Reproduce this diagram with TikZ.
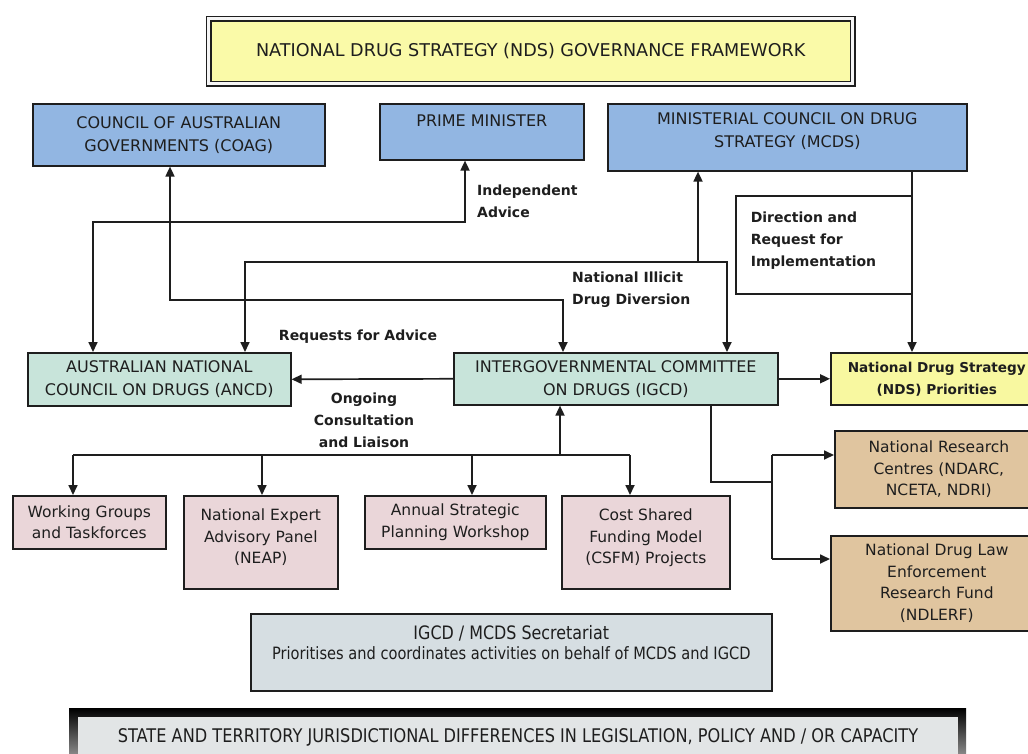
\documentclass[tikz,border=0pt]{standalone}
\usepackage{fontspec}
\setmainfont{DejaVu Sans}
\newfontfamily\condfont{DejaVu Sans}[FakeStretch=0.86]
\usetikzlibrary{arrows.meta}
\definecolor{blu}{HTML}{92B6E2}
\definecolor{ttl}{HTML}{FAFAA8}
\definecolor{ndsy}{HTML}{F8F8A0}
\definecolor{igc}{HTML}{C8E4DA}
\definecolor{pnk}{HTML}{EAD6D9}
\definecolor{tanc}{HTML}{E0C59F}
\definecolor{secc}{HTML}{D6DEE2}
\definecolor{jur}{HTML}{E2E5E6}
\definecolor{ink}{HTML}{1E1E1E}
\tikzset{
  box/.style={draw=ink, line width=1.6pt, inner sep=0pt, align=center, text=ink,
    font=\fontsize{15.5}{21.5}\selectfont, anchor=north west},
  capsbox/.style={box, font=\fontsize{16}{23}\selectfont},
  lbl/.style={font=\bfseries\fontsize{14}{22}\selectfont, text=ink, inner sep=0pt},
  conn/.style={draw=ink, line width=1.7pt},
  >={Triangle[length=10pt,width=9pt]}
}
\begin{document}
\begin{tikzpicture}[x=1pt,y=-1pt]
\useasboundingbox[fill=white] (0,0) rectangle (1028,753);

% title
\node[box, fill=ttl, line width=1.4pt, double=white!92!gray, double distance=3pt,
      minimum width=644pt, minimum height=65pt, font=\fontsize{17.6}{20}\selectfont]
      (title) at (208,18) {NATIONAL DRUG STRATEGY (NDS) GOVERNANCE FRAMEWORK};

% top row
\node[capsbox, fill=blu, minimum width=292pt, minimum height=62pt] (coag) at (32,103)
  {COUNCIL OF AUSTRALIAN\\GOVERNMENTS (COAG)};
\node[capsbox, fill=blu, minimum width=204pt, minimum height=56pt] (pm) at (379,103)
  {PRIME MINISTER\\\mbox{}};
\node[capsbox, fill=blu, minimum width=359pt, minimum height=67pt] (mcds) at (607,103)
  {MINISTERIAL COUNCIL ON DRUG\\STRATEGY (MCDS)\\[-8pt]\mbox{}};

% direction box
\node[box, fill=white, minimum width=176pt, minimum height=98pt, align=left,
      text width=146pt, inner xsep=15pt, font=\bfseries\fontsize{14}{22}\selectfont]
      (dir) at (735,195) {Direction and\\Request for\\Implementation\\[-10pt]\mbox{}};

% middle row
\node[capsbox, fill=igc, minimum width=263pt, minimum height=53pt] (ancd) at (27,352)
  {AUSTRALIAN NATIONAL\\COUNCIL ON DRUGS (ANCD)};
\node[capsbox, fill=igc, minimum width=324pt, minimum height=52pt] (igcd) at (453,352)
  {INTERGOVERNMENTAL COMMITTEE\\ON DRUGS (IGCD)};
\node[box, fill=ndsy, minimum width=212pt, minimum height=52pt,
      font=\bfseries\fontsize{13.6}{22}\selectfont] (ndsp) at (830,352)
  {National Drug Strategy\\(NDS) Priorities};

% research boxes
\node[box, fill=tanc, minimum width=208pt, minimum height=77pt] (nrc) at (834,430)
  {National Research\\Centres (NDARC,\\NCETA, NDRI)};
\node[box, fill=tanc, minimum width=212pt, minimum height=95pt] (ndlerf) at (830,535)
  {National Drug Law\\Enforcement\\Research Fund\\(NDLERF)};

% children
\node[box, fill=pnk, minimum width=153pt, minimum height=53pt] (wg) at (12,495)
  {Working Groups\\and Taskforces};
\node[box, fill=pnk, minimum width=154pt, minimum height=93pt] (neap) at (183,495)
  {National Expert\\Advisory Panel\\(NEAP)\\[-10pt]\mbox{}};
\node[box, fill=pnk, minimum width=181pt, minimum height=53pt] (asp) at (364,495)
  {Annual Strategic\\Planning Workshop};
\node[box, fill=pnk, minimum width=168pt, minimum height=93pt] (csfm) at (561,495)
  {Cost Shared\\Funding Model\\(CSFM) Projects\\[-10pt]\mbox{}};

% secretariat
\node[box, fill=secc, minimum width=521pt, minimum height=77pt,
      font=\condfont\fontsize{18.5}{20}\selectfont] (sec) at (250,613)
  {IGCD / MCDS Secretariat\\{\fontsize{17}{20}\selectfont Prioritises and coordinates activities on behalf of MCDS and IGCD}\\\mbox{}};

% jurisdiction bar
\node[anchor=north west, inner sep=0pt, minimum width=897pt, minimum height=60pt,
      top color=black, bottom color=gray!60] (frame) at (69,708) {};
\node[anchor=north west, inner sep=0pt, minimum width=879pt, minimum height=40pt,
      fill=jur, draw=white!80!gray, line width=1pt, text=ink,
      font=\condfont\fontsize{18.8}{20}\selectfont] (juris) at (78,717)
  {STATE AND TERRITORY JURISDICTIONAL DIFFERENCES IN LEGISLATION, POLICY AND / OR CAPACITY};

% labels
\node[lbl, anchor=west, align=left] (l1) at (477,201) {Independent\\Advice};
\node[lbl, anchor=west, align=left] (l2) at (572,290) {National Illicit\\Drug Diversion};
\node[lbl] (l3) at (358,337) {Requests for Advice};
\node[lbl, align=center] (l4) at (364,420) {Ongoing\\Consultation\\and Liaison};

% connectors
\coordinate (p1) at (170,300); \coordinate (p2) at (563,300);
\draw[conn,<->] (coag.south -| p1) -- (p1) -- (p2) -- (igcd.north -| p2);

\coordinate (q1) at (465,222); \coordinate (q2) at (93,222);
\draw[conn,<->] (pm.south -| q1) -- (q1) -- (q2) -- (ancd.north -| q2);

\coordinate (r1) at (245,262); \coordinate (r2) at (727,262); \coordinate (r3) at (698,262);
\draw[conn,<->] (ancd.north -| r1) -- (r1) -- (r2) -- (igcd.north -| r2);
\draw[conn,->] (r3) -- (mcds.south -| r3);

\coordinate (s1) at (912,250);
\draw[conn,->] (mcds.south -| s1) -- (ndsp.north -| s1);

\draw[conn,->] (igcd.west) -- (ancd.east);
\draw[conn,->] (igcd.east) -- (ndsp.west);

\coordinate (t0) at (560,455); \coordinate (t1) at (73,455); \coordinate (t2) at (262,455);
\coordinate (t3) at (472,455); \coordinate (t4) at (630,455);
\draw[conn,->] (t0) -- (igcd.south -| t0);
\draw[conn] (t1) -- (t4);
\draw[conn,->] (t1) -- (wg.north -| t1);
\draw[conn,->] (t2) -- (neap.north -| t2);
\draw[conn,->] (t3) -- (asp.north -| t3);
\draw[conn,->] (t4) -- (csfm.north -| t4);

\coordinate (u1) at (711,482); \coordinate (u2) at (772,482);
\coordinate (u3) at (772,455); \coordinate (u4) at (772,559);
\draw[conn] (igcd.south -| u1) -- (u1) -- (u2);
\draw[conn] (u3) -- (u4);
\draw[conn,->] (u3) -- (nrc.west |- u3);
\draw[conn,->] (u4) -- (ndlerf.west |- u4);
\end{tikzpicture}
\end{document}
